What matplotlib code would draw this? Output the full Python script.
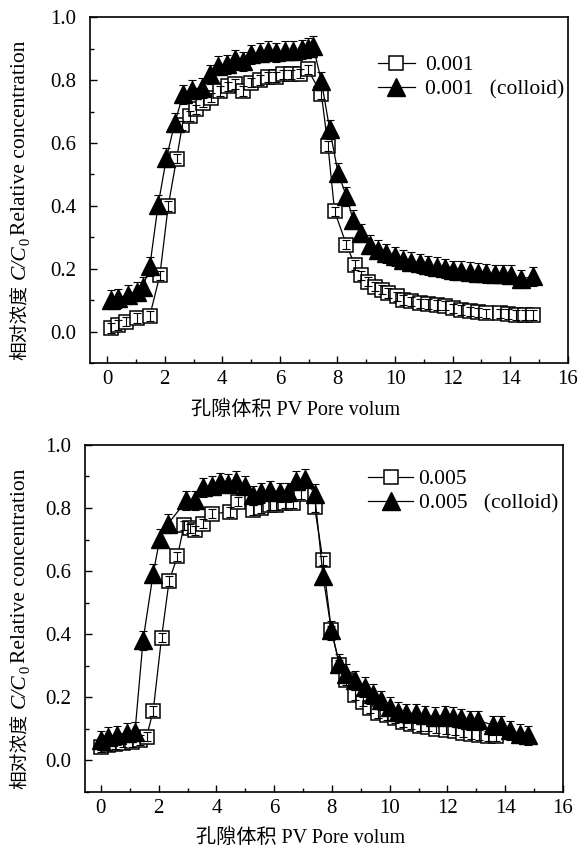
import matplotlib
matplotlib.use('Agg')
import matplotlib.pyplot as plt
from matplotlib.ticker import MultipleLocator

plt.rcParams['font.family'] = ['Liberation Serif', 'Noto Sans CJK SC']
plt.rcParams['font.size'] = 15

# upper panel: 0.001
sq1_x = [0.15, 0.38, 0.67, 1.02, 1.48, 1.83, 2.12, 2.41, 2.61, 2.87, 3.10, 3.33, 3.62,
         3.91, 4.20, 4.43, 4.72, 5.01, 5.30, 5.59, 5.88, 6.11, 6.40, 6.69, 6.97, 7.44,
         7.67, 7.90, 8.31, 8.60, 8.83, 9.06, 9.30, 9.53, 9.76, 10.05, 10.28, 10.57,
         10.86, 11.15, 11.44, 11.73, 12.01, 12.30, 12.59, 12.88, 13.17, 13.64, 13.93,
         14.21, 14.50, 14.79]
sq1_y = [0.012, 0.022, 0.033, 0.044, 0.051, 0.18, 0.40, 0.55, 0.656, 0.686, 0.707, 0.728,
         0.744, 0.765, 0.78, 0.787, 0.765, 0.792, 0.80, 0.81, 0.81, 0.818, 0.818, 0.82,
         0.834, 0.755, 0.59, 0.383, 0.277, 0.213, 0.18, 0.16, 0.144, 0.134, 0.123, 0.113,
         0.102, 0.097, 0.091, 0.089, 0.086, 0.083, 0.075, 0.070, 0.065, 0.062, 0.059,
         0.059, 0.057, 0.054, 0.054, 0.054]
tri1_x = [0.15, 0.38, 0.73, 1.02, 1.25, 1.48, 1.77, 2.06, 2.35, 2.64, 2.93, 3.28, 3.57,
          3.86, 4.15, 4.43, 4.72, 5.01, 5.30, 5.59, 5.88, 6.17, 6.46, 6.75, 6.98, 7.15,
          7.44, 7.73, 8.02, 8.31, 8.54, 8.83, 9.12, 9.41, 9.70, 9.99, 10.28, 10.57, 10.86,
          11.15, 11.44, 11.73, 12.01, 12.30, 12.59, 12.88, 13.17, 13.46, 13.75, 14.04,
          14.39, 14.79]
tri1_y = [0.102, 0.107, 0.118, 0.128, 0.144, 0.208, 0.404, 0.553, 0.665, 0.755, 0.77, 0.776,
          0.818, 0.845, 0.85, 0.866, 0.86, 0.882, 0.887, 0.893, 0.888, 0.893, 0.893, 0.898,
          0.903, 0.909, 0.797, 0.643, 0.505, 0.431, 0.357, 0.314, 0.277, 0.261, 0.25, 0.24,
          0.229, 0.223, 0.218, 0.212, 0.207, 0.202, 0.196, 0.194, 0.191, 0.188, 0.186,
          0.184, 0.184, 0.181, 0.168, 0.176]

# lower panel: 0.005
sq5_x = [0.02, 0.25, 0.48, 0.77, 1.06, 1.35, 1.58, 1.81, 2.10, 2.36, 2.65, 2.88, 3.08,
         3.25, 3.54, 3.85, 4.46, 4.75, 5.27, 5.56, 5.85, 6.08, 6.37, 6.66, 6.94, 7.40,
         7.69, 7.98, 8.26, 8.50, 8.79, 9.08, 9.31, 9.60, 9.89, 10.17, 10.46, 10.75, 11.04,
         11.33, 11.61, 11.96, 12.25, 12.54, 12.82, 13.11, 13.40, 13.69]
sq5_y = [0.043, 0.049, 0.052, 0.056, 0.059, 0.064, 0.075, 0.157, 0.389, 0.568, 0.647, 0.745,
         0.735, 0.729, 0.75, 0.782, 0.787, 0.82, 0.794, 0.80, 0.808, 0.81, 0.815, 0.815,
         0.845, 0.803, 0.634, 0.412, 0.302, 0.254, 0.207, 0.186, 0.165, 0.149, 0.143,
         0.133, 0.122, 0.115, 0.109, 0.107, 0.101, 0.098, 0.094, 0.088, 0.083, 0.080,
         0.077, 0.077]
tri5_x = [0.02, 0.25, 0.54, 0.89, 1.18, 1.46, 1.81, 2.04, 2.33, 2.96, 3.25, 3.54, 3.83,
          4.12, 4.41, 4.69, 4.98, 5.27, 5.56, 5.85, 6.19, 6.48, 6.77, 7.06, 7.40, 7.69,
          7.98, 8.26, 8.50, 8.79, 9.13, 9.42, 9.71, 10.00, 10.28, 10.57, 10.92, 11.21,
          11.56, 11.91, 12.19, 12.48, 12.77, 13.06, 13.57, 13.86, 14.15, 14.50, 14.79]
tri5_y = [0.064, 0.075, 0.08, 0.088, 0.091, 0.381, 0.592, 0.703, 0.75, 0.824, 0.824, 0.866,
          0.87, 0.882, 0.877, 0.887, 0.871, 0.84, 0.85, 0.856, 0.85, 0.85, 0.887, 0.892,
          0.845, 0.586, 0.412, 0.307, 0.275, 0.254, 0.233, 0.212, 0.191, 0.17, 0.155,
          0.149, 0.149, 0.144, 0.138, 0.144, 0.138, 0.133, 0.127, 0.127, 0.112, 0.112,
          0.096, 0.085, 0.08]

SQ_ERR = 0.015
TRI_ERR = 0.03

x_ticks = [0, 2, 4, 6, 8, 10, 12, 14, 16]
y_ticks = [0.0, 0.2, 0.4, 0.6, 0.8, 1.0]
xlabel = '孔隙体积 PV Pore volum'

fig = plt.figure(figsize=(5.8, 8.55), dpi=100)
ax1 = fig.add_axes([0.155, 0.575, 0.824, 0.405])
ax2 = fig.add_axes([0.1466, 0.0737, 0.824, 0.406])


def draw_panel(ax, sx, sy, tx, ty, name, xmin, label_x):
    ax.plot(sx, sy, color='k', lw=0.9, marker='s', ms=10.5, mfc='white', mec='k',
            mew=1.1, label=name, zorder=2)
    ax.errorbar(sx, sy, yerr=SQ_ERR, fmt='none', ecolor='k', elinewidth=0.8,
                capsize=3, capthick=0.8, zorder=3)
    ax.plot(tx, ty, color='k', lw=0.9, marker='^', ms=13.5, mfc='k', mec='k',
            label=name + '   (colloid)', zorder=4)
    ax.errorbar(tx, ty, yerr=TRI_ERR, fmt='none', ecolor='k', elinewidth=0.8,
                capsize=3, capthick=0.8, zorder=5)

    ax.set_xlim(xmin, 16)
    ax.set_ylim(-0.1, 1.0)
    ax.set_xticks(x_ticks)
    ax.set_yticks(y_ticks)
    ax.set_yticklabels(['%.1f' % v for v in y_ticks])
    ax.xaxis.set_minor_locator(MultipleLocator(1))
    ax.yaxis.set_minor_locator(MultipleLocator(0.1))
    ax.tick_params(which='both', direction='in', top=False, right=False, width=1,
                   labelsize=15)
    ax.tick_params(which='major', length=5)
    ax.tick_params(which='minor', length=3)
    ax.tick_params(axis='x', pad=5)
    ax.tick_params(axis='y', pad=10)
    for s in ax.spines.values():
        s.set_linewidth(1.2)
    ax.set_xlabel(xlabel, fontsize=14.5, labelpad=8)
    ax.xaxis.label.set_x(label_x)


def draw_ylabel(ax, x_fig):
    # the label mixes CJK, italic and a subscript, so it is built piece by piece
    t0 = ax.annotate('相对浓度', xy=(x_fig, 0.01), xycoords=(fig.transFigure, ax.transAxes),
                     rotation=90, rotation_mode='anchor', ha='left', va='baseline',
                     fontsize=13.5, family='Noto Sans CJK SC')
    t1 = ax.annotate('C/C', xy=(x_fig, 1), xycoords=(fig.transFigure, t0),
                     xytext=(0, 4), textcoords='offset points',
                     rotation=90, rotation_mode='anchor', ha='left', va='baseline',
                     fontsize=15.5, style='italic')
    t2 = ax.annotate('0', xy=(x_fig, 1), xycoords=(fig.transFigure, t1),
                     xytext=(3.5, 0), textcoords='offset points',
                     rotation=90, rotation_mode='anchor', ha='left', va='baseline',
                     fontsize=10.5)
    ax.annotate('Relative concentration', xy=(x_fig, 1), xycoords=(fig.transFigure, t2),
                xytext=(0, 2), textcoords='offset points',
                rotation=90, rotation_mode='anchor', ha='left', va='baseline',
                fontsize=15.5)


draw_panel(ax1, sq1_x, sq1_y, tri1_x, tri1_y, '0.001', -0.6, 0.43)
draw_panel(ax2, sq5_x, sq5_y, tri5_x, tri5_y, '0.005', -0.55, 0.45)

draw_ylabel(ax1, 25 / 580)
draw_ylabel(ax2, 25 / 580)

ax1.legend(loc='upper left', bbox_to_anchor=(378 / 580, 1 - 55 / 855),
           bbox_transform=fig.transFigure, frameon=False, borderpad=0,
           borderaxespad=0, handlelength=1.7, handletextpad=0.5, labelspacing=0.2,
           fontsize=15.5)
ax2.legend(loc='upper left', bbox_to_anchor=(368 / 580, 1 - 469 / 855),
           bbox_transform=fig.transFigure, frameon=False, borderpad=0,
           borderaxespad=0, handlelength=2.1, handletextpad=0.25, labelspacing=0.2,
           fontsize=15.5)

fig.savefig('out.png', dpi=100)
